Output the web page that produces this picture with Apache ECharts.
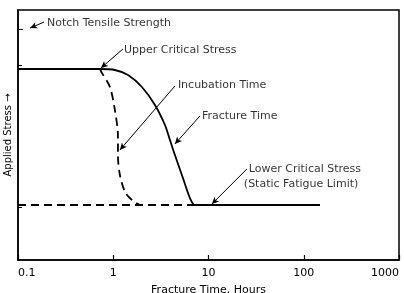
<!DOCTYPE html>
<html>
<head>
<meta charset="utf-8">
<script src="https://cdn.jsdelivr.net/npm/echarts@6/dist/echarts.min.js"></script>
<style>
  html, body { margin: 0; padding: 0; background: #fff; }
  #chart { width: 404px; height: 293px; }
</style>
</head>
<body>
<div id="chart"></div>
<script>
// x values in hours (log axis), y values in arbitrary stress units 0-100
const tickLabels = ['0.1', '1', '10', '100', '1000']

const fractureX = [0.1, 0.725, 1.04, 1.43, 2.0, 2.74, 3.49, 3.94, 4.44, 5.39, 6.38, 7.2, 148]
const fractureY = [76.4, 76.4, 76, 74, 69.2, 62, 54, 48, 42, 32.8, 24.8, 22, 22]

const incubationX = [0.725, 0.761, 0.923, 1.04, 1.12, 1.12, 1.175, 1.33, 1.57, 1.9]
const incubationY = [76.4, 74.8, 69.2, 60, 49.6, 42, 34, 27.2, 24, 22]

const lowerDashX = [0.1, 7.2]
const lowerDashY = [22, 22]

const noteText = ['Notch Tensile Strength', 'Upper Critical Stress', 'Incubation Time',
  'Fracture Time', 'Lower Critical Stress', '(Static Fatigue Limit)']

const font = 'DejaVu Sans'

// where each note sits (data coords) and its leader line
const notePos = [[0.2014, 94.8], [1.294, 84], [4.77, 70], [8.53, 57.6], [26.5, 36.4], [23.5, 30.4]]
const leaders = [
  [[0.188, 95.2], [0.134, 92.8], 0.3],
  [[1.264, 84.4], [0.743, 76.8], -0.25],
  [[4.44, 69.6], [1.175, 44], 0],
  [[8.12, 57.6], [4.44, 46.4], 0.15],
  [[25.3, 36.4], [10.86, 22.4], 0.1]
]

const zip = (xs, ys) => xs.map((x, i) => [x, ys[i]])

const chart = echarts.init(document.getElementById('chart'))
chart.setOption({
  animation: false,
  grid: {
    left: 18, right: 5, top: 10, bottom: 33,
    outerBoundsMode: 'none',
    containLabel: false,
    show: true, borderColor: '#000', borderWidth: 1.5
  },
  xAxis: {
    type: 'log',
    logBase: 10,
    min: 0.1,
    max: 1000,
    name: 'Fracture Time, Hours',
    nameLocation: 'middle',
    nameGap: 25,
    nameTextStyle: { fontFamily: font, fontSize: 11, color: '#000' },
    axisLine: { lineStyle: { color: '#000', width: 1.5 } },
    axisTick: { inside: true, length: 5, lineStyle: { color: '#000', width: 1.2 } },
    minorTick: { show: false },
    splitLine: { show: false },
    axisLabel: {
      margin: 8,
      fontFamily: font,
      fontSize: 11,
      color: '#000',
      alignMinLabel: 'left',
      alignMaxLabel: 'right',
      formatter: (v) => tickLabels[Math.round(Math.log10(v)) + 1]
    }
  },
  yAxis: {
    type: 'value',
    min: 0,
    max: 100,
    name: 'Applied Stress \u2192',
    nameLocation: 'middle',
    nameRotate: 90,
    nameGap: 5,
    nameTextStyle: { fontFamily: font, fontSize: 10, color: '#000' },
    axisLine: { lineStyle: { color: '#000', width: 1.5 } },
    axisTick: { inside: true, length: 4, customValues: [78, 21], lineStyle: { color: '#000' } },
    axisLabel: { show: false },
    splitLine: { show: false }
  },
  series: [
    {
      name: 'Fracture Time',
      type: 'line',
      data: zip(fractureX, fractureY),
      smooth: 0.3,
      symbol: 'none',
      lineStyle: { color: '#000', width: 1.8 }
    },
    {
      name: 'Incubation Time',
      type: 'line',
      data: zip(incubationX, incubationY),
      smooth: 0.3,
      symbol: 'none',
      lineStyle: { color: '#000', width: 1.8, type: [8, 5] }
    },
    {
      name: 'Lower dashed',
      type: 'line',
      data: zip(lowerDashX, lowerDashY),
      symbol: 'none',
      lineStyle: { color: '#000', width: 1.8, type: [8, 5] }
    },
    {
      name: 'notes',
      type: 'scatter',
      symbolSize: 0,
      data: noteText.map((t, i) => ({ name: t, value: notePos[i] })),
      label: {
        show: true,
        position: 'right',
        distance: 0,
        formatter: '{b}',
        fontFamily: font,
        fontSize: 11,
        color: '#000'
      },
      emphasis: { disabled: true },
      markLine: {
        silent: true,
        symbol: ['none', 'arrow'],
        symbolSize: [5, 7],
        label: { show: false },
        lineStyle: { color: '#000', width: 1, type: 'solid' },
        data: leaders.map(([a, b, c]) => [
          { coord: a, lineStyle: { curveness: c } },
          { coord: b }
        ]).concat([[
          { coord: [0.1, 92.4], symbol: 'none' },
          { coord: [0.112, 92.4], symbol: 'none' }
        ]])
      }
    }
  ]
})
</script>
</body>
</html>
